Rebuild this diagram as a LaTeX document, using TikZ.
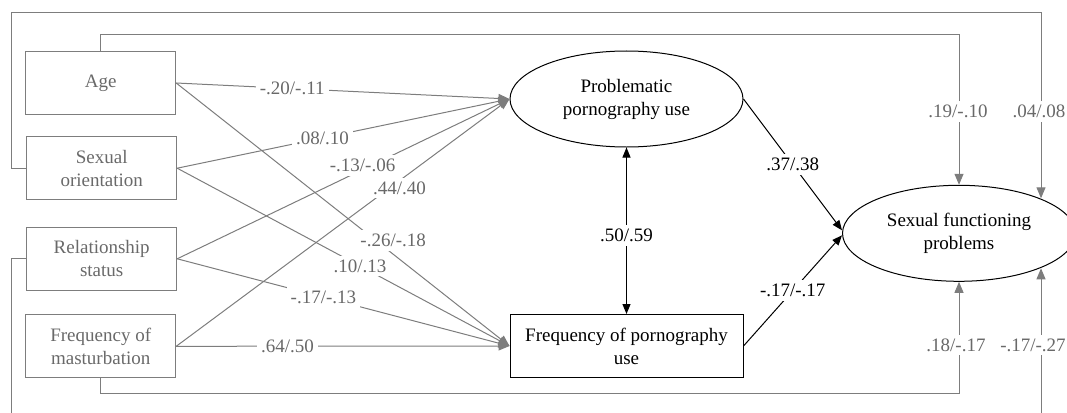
\documentclass[tikz,border=0pt]{standalone}
\usepackage{fontspec}
\setmainfont{Liberation Serif}
\usetikzlibrary{arrows.meta,calc,shapes.geometric}
\definecolor{gr}{RGB}{125,125,125}
\definecolor{grtext}{RGB}{105,105,105}
\begin{document}
\begin{tikzpicture}[x=1pt,y=-1pt,
  font=\fontsize{19}{23}\selectfont,
  gbox/.style={draw=gr, line width=1pt, minimum width=150pt, minimum height=63pt, text=grtext, align=center, inner sep=0pt},
  bbox/.style={draw=black, line width=1pt, minimum width=233pt, minimum height=63pt, align=center, inner sep=0pt},
  ell/.style={ellipse, draw=black, line width=1pt, minimum width=233pt, minimum height=96pt, align=center, inner sep=0pt},
  gline/.style={draw=gr, line width=1pt},
  garrow/.style={gline, -{Triangle[length=11pt,width=9pt]}},
  barrow/.style={draw=black, line width=1pt, -{Triangle[length=10pt,width=8pt]}},
  glbl/.style={fill=white, text=grtext, inner sep=4pt},
  blbl/.style={fill=white, text=black, inner sep=4pt}]
\useasboundingbox (0,0) rectangle (1067,412);
\clip (0,0) rectangle (1067,412);

% nodes
\node[gbox] (age) at (100.7,83) {Age};
\node[gbox] (so) at (101.7,168.2) {Sexual\\orientation};
\node[gbox] (rs) at (101.7,258.8) {Relationship\\status};
\node[gbox] (fm) at (100.7,346.3) {Frequency of\\masturbation};
\node[ell] (ppu) at (626.5,99) {Problematic\\pornography use};
\node[bbox] (fpu) at (626.5,346) {Frequency of pornography\\use};
\node[ell] (sfp) at (959,233.3) {Sexual functioning\\problems};

% loops to SFP
\draw[garrow] (age.north) -- (age.north |- 0,35) -| (sfp.north);
\draw[garrow] (so.west) -| (11,12.7) -| ($(sfp.center)+(82,-35)$);
\draw[garrow] (rs.west) -| (11.7,430) -| ($(sfp.center)+(82,35)$);
\draw[garrow] (fm.south) -- (fm.south |- 0,393.3) -| (sfp.south);
\node[glbl] (l1) at (958,111.7) {.19/-.10};
\node[glbl] (l2) at (1039,111.7) {.04/.08};
\node[glbl] (l3) at (956,345) {.18/-.17};
\node[glbl] (l4) at (1033,345) {-.17/-.27};

% predictors to PPU
\draw[garrow] (age.east) -- node[glbl,pos=.348] (a1) {-.20/-.11} (ppu.west);
\draw[garrow] (so.east) -- node[glbl,pos=.437] (a2) {.08/.10} (ppu.west);
\draw[garrow] (rs.east) -- node[glbl,pos=.582,xshift=-8pt] (a3) {-.13/-.06} (ppu.west);
\draw[garrow] (fm.east) -- node[glbl,pos=.64,xshift=10pt] (a4) {.44/.40} (ppu.west);

% predictors to FPU
\draw[garrow] (age.east) -- node[glbl,pos=.6,xshift=17pt] (b1) {-.26/-.18} (fpu.west);
\draw[garrow] (so.east) -- node[glbl,pos=.55] (b2) {.10/.13} (fpu.west);
\draw[garrow] (rs.east) -- node[glbl,pos=.44] (b3) {-.17/-.13} (fpu.west);
\draw[garrow] (fm.east) -- node[glbl,pos=.334] (b4) {.64/.50} (fpu.west);

% central paths
\draw[barrow, {Triangle[length=10pt,width=8pt]}-{Triangle[length=10pt,width=8pt]}] (ppu.south) -- node[blbl,pos=.53] (c1) {.50/.59} (fpu.north);
\draw[barrow] (ppu.east) -- node[blbl,pos=.5] (c2) {.37/.38} ($(sfp.west)+(0,-3)$);
\draw[barrow] (fpu.east) -- node[blbl,pos=.5] (c3) {-.17/-.17} ($(sfp.west)+(0,2)$);
\end{tikzpicture}
\end{document}
